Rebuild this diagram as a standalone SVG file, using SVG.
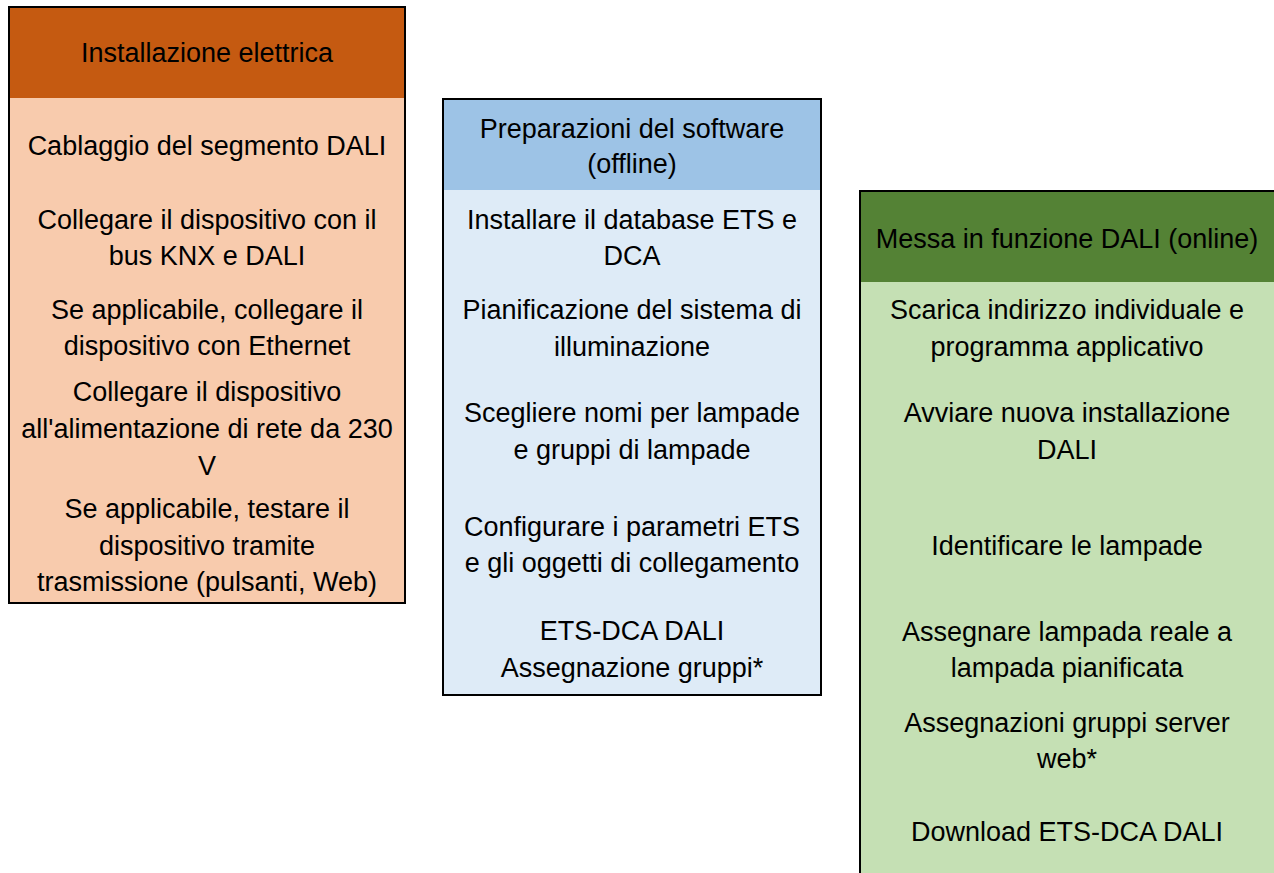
<svg xmlns="http://www.w3.org/2000/svg" width="1274" height="873" viewBox="0 0 1274 873">
<style>
text{font-family:"Liberation Sans",Arial,sans-serif;font-size:27px;fill:#000;text-anchor:middle}
.frame{fill:none;stroke:#000;stroke-width:2}
</style>
<rect width="1274" height="873" fill="#fff"/>
<g id="installazione">
<rect x="9" y="7" width="396" height="596" fill="#F8CBAD"/>
<rect x="9" y="7" width="396" height="91" fill="#C55A11"/>
<rect x="9" y="7" width="396" height="596" class="frame"/>
<text x="207" y="62">Installazione elettrica</text>
<text x="207" y="155">Cablaggio del segmento DALI</text>
<text x="207" y="229">Collegare il dispositivo con il</text>
<text x="207" y="265">bus KNX e DALI</text>
<text x="207" y="319">Se applicabile, collegare il</text>
<text x="207" y="355">dispositivo con Ethernet</text>
<text x="207" y="401">Collegare il dispositivo</text>
<text x="207" y="438">all'alimentazione di rete da 230</text>
<text x="207" y="475">V</text>
<text x="207" y="518">Se applicabile, testare il</text>
<text x="207" y="555">dispositivo tramite</text>
<text x="207" y="591">trasmissione (pulsanti, Web)</text>
</g>
<g id="software">
<rect x="443" y="99" width="378" height="596" fill="#DEEBF7"/>
<rect x="443" y="99" width="378" height="91" fill="#9DC3E6"/>
<rect x="443" y="99" width="378" height="596" class="frame"/>
<text x="632" y="138">Preparazioni del software</text>
<text x="632" y="173">(offline)</text>
<text x="632" y="229">Installare il database ETS e</text>
<text x="632" y="265">DCA</text>
<text x="632" y="319">Pianificazione del sistema di</text>
<text x="632" y="356">illuminazione</text>
<text x="632" y="422">Scegliere nomi per lampade</text>
<text x="632" y="459">e gruppi di lampade</text>
<text x="632" y="536">Configurare i parametri ETS</text>
<text x="632" y="572">e gli oggetti di collegamento</text>
<text x="632" y="640">ETS-DCA DALI</text>
<text x="632" y="677">Assegnazione gruppi*</text>
</g>
<g id="messa">
<rect x="860" y="191" width="416" height="690" fill="#C5E0B4"/>
<rect x="860" y="191" width="416" height="91" fill="#548235"/>
<rect x="860" y="191" width="416" height="690" class="frame"/>
<text x="1067" y="248">Messa in funzione DALI (online)</text>
<text x="1067" y="319">Scarica indirizzo individuale e</text>
<text x="1067" y="356">programma applicativo</text>
<text x="1067" y="422">Avviare nuova installazione</text>
<text x="1067" y="459">DALI</text>
<text x="1067" y="555">Identificare le lampade</text>
<text x="1067" y="641">Assegnare lampada reale a</text>
<text x="1067" y="677">lampada pianificata</text>
<text x="1067" y="732">Assegnazioni gruppi server</text>
<text x="1067" y="768">web*</text>
<text x="1067" y="841">Download ETS-DCA DALI</text>
</g>
<g id="connectors"></g>
</svg>
